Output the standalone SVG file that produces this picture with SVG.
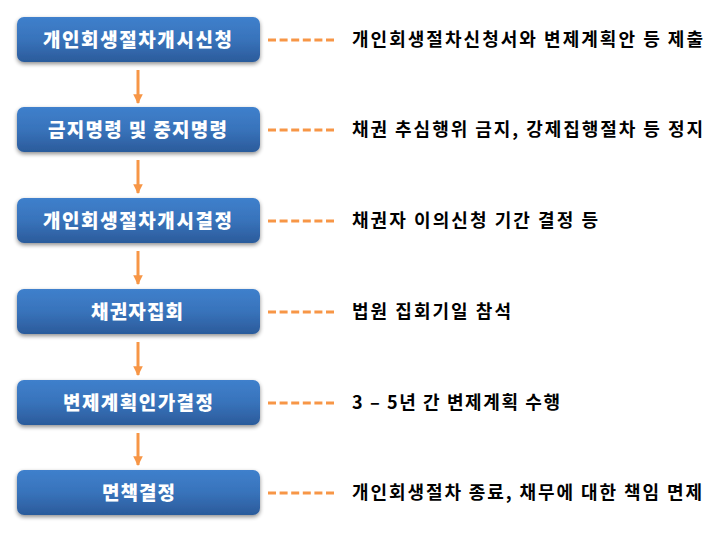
<svg xmlns="http://www.w3.org/2000/svg" width="720" height="540" viewBox="0 0 720 540">
<defs>
<linearGradient id="g" x1="0" y1="0" x2="0" y2="1">
<stop offset="0" stop-color="#3f80cc"/>
<stop offset="0.5" stop-color="#3873bb"/>
<stop offset="1" stop-color="#2b5b9b"/>
</linearGradient>
<filter id="sh" x="-10%" y="-20%" width="120%" height="150%">
<feGaussianBlur in="SourceAlpha" stdDeviation="2"/>
<feOffset dx="0" dy="2" result="b"/>
<feComponentTransfer><feFuncA type="linear" slope="0.45"/></feComponentTransfer>
<feMerge><feMergeNode/><feMergeNode in="SourceGraphic"/></feMerge>
</filter>
<marker id="ah" viewBox="0 0 10 10" refX="9" refY="5" markerWidth="3.2" markerHeight="3.2" orient="auto" markerUnits="strokeWidth">
<path d="M0,0 L10,5 L0,10 z" fill="#f79646"/>
</marker>
<style>
.box{fill:url(#g);filter:url(#sh);}
.bt{font-family:"Noto Sans CJK KR","Noto Sans",sans-serif;font-weight:900;font-size:19px;fill:#ffffff;}
.rt{font-family:"Noto Sans CJK KR","Noto Sans",sans-serif;font-weight:bold;font-size:18px;fill:#000000;}
.dash{stroke:#f79646;stroke-width:3;stroke-dasharray:8 3.6;fill:none;}
.arr{stroke:#f79646;stroke-width:3;fill:none;marker-end:url(#ah);}
</style>
</defs>
<rect width="720" height="540" fill="#ffffff"/>
<g id="connectors">
<line class="arr" x1="138" y1="70" x2="138" y2="103"/>
<line class="arr" x1="138" y1="160" x2="138" y2="193"/>
<line class="arr" x1="138" y1="251" x2="138" y2="284"/>
<line class="arr" x1="138" y1="342" x2="138" y2="375"/>
<line class="arr" x1="138" y1="433" x2="138" y2="465"/>
<line class="dash" x1="268" y1="40" x2="334" y2="40"/>
<line class="dash" x1="268" y1="130" x2="334" y2="130"/>
<line class="dash" x1="268" y1="221" x2="334" y2="221"/>
<line class="dash" x1="268" y1="312" x2="334" y2="312"/>
<line class="dash" x1="268" y1="403" x2="334" y2="403"/>
<line class="dash" x1="268" y1="493" x2="334" y2="493"/>
</g>
<g id="n1"><rect class="box" x="17" y="17" width="243" height="45" rx="7"/><text class="bt" x="43" y="47" textLength="189" lengthAdjust="spacing">개인회생절차개시신청</text></g>
<g id="n2"><rect class="box" x="17" y="107" width="243" height="45" rx="7"/><text class="bt" x="48" y="137" textLength="179" lengthAdjust="spacing">금지명령 및 중지명령</text></g>
<g id="n3"><rect class="box" x="17" y="198" width="243" height="45" rx="7"/><text class="bt" x="43" y="228" textLength="189" lengthAdjust="spacing">개인회생절차개시결정</text></g>
<g id="n4"><rect class="box" x="17" y="289" width="243" height="45" rx="7"/><text class="bt" x="91" y="319" textLength="92" lengthAdjust="spacing">채권자집회</text></g>
<g id="n5"><rect class="box" x="17" y="380" width="243" height="45" rx="7"/><text class="bt" x="63" y="410" textLength="150" lengthAdjust="spacing">변제계획인가결정</text></g>
<g id="n6"><rect class="box" x="17" y="470" width="243" height="45" rx="7"/><text class="bt" x="102" y="500" textLength="73" lengthAdjust="spacing">면책결정</text></g>
<g id="labels">
<text class="rt" x="352" y="46" textLength="351" lengthAdjust="spacing">개인회생절차신청서와 변제계획안 등 제출</text>
<text class="rt" x="352" y="136" textLength="351" lengthAdjust="spacing">채권 추심행위 금지, 강제집행절차 등 정지</text>
<text class="rt" x="352" y="227" textLength="246" lengthAdjust="spacing">채권자 이의신청 기간 결정 등</text>
<text class="rt" x="352" y="318" textLength="159" lengthAdjust="spacing">법원 집회기일 참석</text>
<text class="rt" x="352" y="409" textLength="208" lengthAdjust="spacing">3 – 5년 간 변제계획 수행</text>
<text class="rt" x="352" y="499" textLength="350" lengthAdjust="spacing">개인회생절차 종료, 채무에 대한 책임 면제</text>
</g>
</svg>
